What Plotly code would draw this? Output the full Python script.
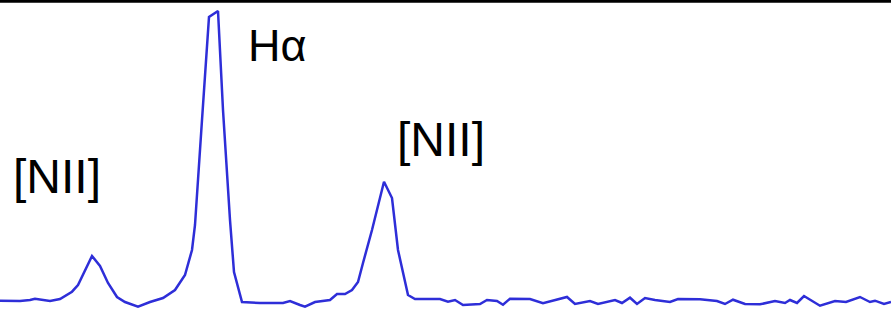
import plotly.graph_objects as go

# spectrum: channel (pixel column) and relative flux
channel = [0, 20, 30, 35, 50, 60, 72, 78, 92, 100, 108, 117, 125, 138, 150, 163, 175, 185, 192,
           195, 202, 209, 218, 223, 230, 234, 242, 260, 283, 290, 300, 305, 315, 330, 337, 345,
           352, 358, 363, 372, 384, 392, 398, 408, 415, 425, 440, 448, 455, 463, 480, 487, 497,
           503, 510, 530, 543, 567, 575, 590, 598, 615, 622, 630, 637, 645, 655, 670, 678, 700,
           717, 725, 733, 745, 760, 775, 785, 790, 797, 804, 820, 835, 846, 860, 870, 875, 884, 891]
flux = [29.3, 29, 30, 31.3, 29, 31, 38.3, 45, 74, 64, 47, 33, 28, 23.3, 28, 32, 40, 55, 80,
        105, 210, 313, 319, 220, 110, 58, 28, 27, 27, 29, 25, 23.3, 28, 30, 36, 36,
        40, 48, 67, 100, 148.3, 132, 80, 35, 31, 31.3, 31, 28.3, 30, 25, 26, 30, 29,
        25.3, 31.3, 31, 26.7, 33, 26, 29, 26, 30, 27, 32.3, 26, 32, 30, 28, 31, 30.7,
        29, 26, 30.3, 26, 25.7, 29, 27, 30, 27, 34, 24.3, 29, 28, 33, 28, 29.3, 26, 28]

labels = ["[NII]", "Hα", "[NII]"]
label_x = [57, 277, 441]
label_y = [154, 285, 191]
label_size = [48, 45, 48]

fig = go.Figure()
fig.add_trace(go.Scatter(x=channel, y=flux, mode="lines",
                         line=dict(color="#2e2ed8", width=2.5), hoverinfo="skip"))

for t, x, y, s in zip(labels, label_x, label_y, label_size):
    fig.add_annotation(x=x, y=y, text=t, showarrow=False, xanchor="center", yanchor="middle",
                       font=dict(family="Liberation Sans, Arial", size=s, color="black"))

fig.add_shape(type="line", xref="paper", yref="paper", x0=0, x1=1,
              y0=1 - 1.2 / 330, y1=1 - 1.2 / 330, line=dict(color="black", width=3))

fig.update_layout(width=891, height=330, autosize=False,
                  margin=dict(l=0, r=0, t=0, b=0),
                  paper_bgcolor="white", plot_bgcolor="white", showlegend=False)
fig.update_xaxes(range=[0, 891], visible=False)
fig.update_yaxes(range=[0, 330], visible=False)

fig.write_html("out.html")
